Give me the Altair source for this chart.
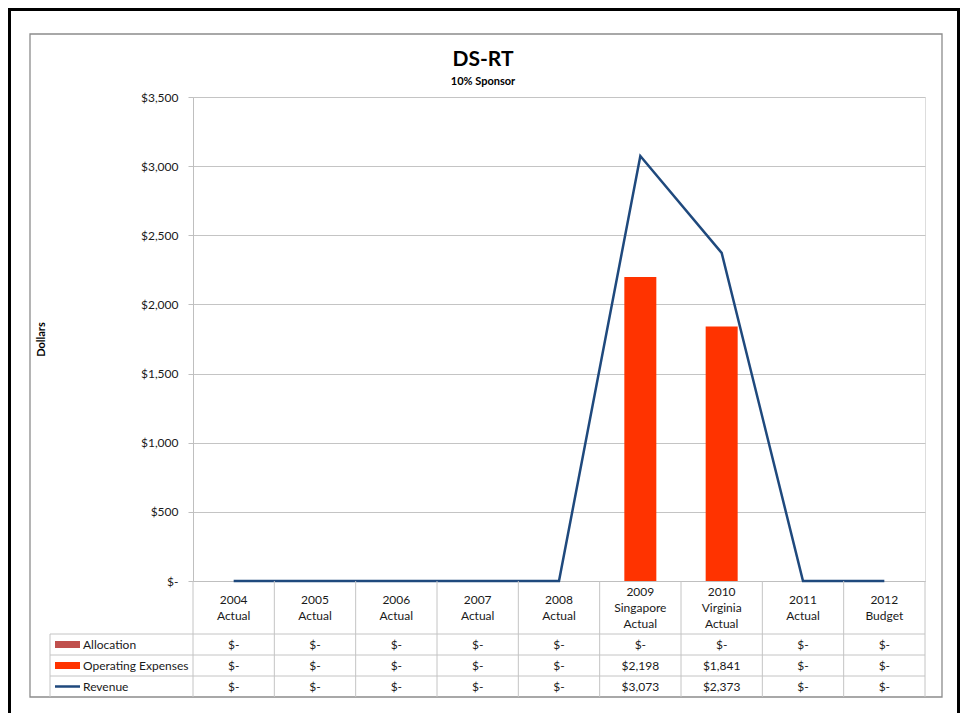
import altair as alt
import pandas as pd

# ---- data ----
categories = ["2004\nActual", "2005\nActual", "2006\nActual", "2007\nActual", "2008\nActual",
              "2009\nSingapore\nActual", "2010\nVirginia\nActual", "2011\nActual", "2012\nBudget"]
allocation = [0, 0, 0, 0, 0, 0, 0, 0, 0]
operating_expenses = [0, 0, 0, 0, 0, 2198, 1841, 0, 0]
revenue = [0, 0, 0, 0, 0, 3073, 2373, 0, 0]
series_names = ["Allocation", "Operating Expenses", "Revenue"]
series_colors = ["#C0504D", "#FF3300", "#1F497D"]
y_ticks = [0, 500, 1000, 1500, 2000, 2500, 3000, 3500]
chart_title = "DS-RT"
chart_subtitle = "10% Sponsor"
y_title = "Dollars"

rows = []
for name, vals in zip(series_names, [allocation, operating_expenses, revenue]):
    for c, v in zip(categories, vals):
        rows.append({"category": c, "series": name, "value": v})
df = pd.DataFrame(rows)
cat_df = pd.DataFrame({"category": categories})
one = pd.DataFrame({"k": [0]})

W, H = 732, 484
FONT = "Lato"
GRID = "#C4C4C4"
TXT = "#1A1A1A"

x_axis = alt.Axis(labels=False, ticks=False, title=None, grid=False,
                  domainColor="#BFBFBF", domainWidth=1)
x_scale = alt.Scale(domain=categories, paddingInner=0, paddingOuter=0)


def xenc(band=None):
    if band is None:
        return alt.X("category:N", sort=categories, scale=x_scale, axis=x_axis)
    return alt.X("category:N", sort=categories, scale=x_scale, axis=x_axis, bandPosition=band)


y_enc = alt.Y(
    "value:Q",
    scale=alt.Scale(domain=[0, 3500], nice=False),
    axis=alt.Axis(
        values=y_ticks,
        labelExpr="datum.value == 0 ? '$-' : '$' + format(datum.value, ',')",
        title=y_title, titleFont=FONT, titleFontSize=11, titleFontWeight="bold",
        titleColor="black", titleX=-152, titleY=242, titleAlign="center",
        titleBaseline="middle", titleAngle=270,
        labelFont=FONT, labelFontSize=12, labelColor=TXT, labelPadding=10,
        tickSize=5, tickColor="#BFBFBF", domainColor="#BFBFBF",
        grid=True, gridColor=GRID, gridWidth=1,
    ),
)

base = alt.Chart(df)
deco = alt.Chart(one)

# outer frame & chart-area border
frame = deco.mark_rect(fillOpacity=0, stroke="black", strokeWidth=3).encode(
    x=alt.value(-183.5), x2=alt.value(765.5), y=alt.value(-87.5), y2=alt.value(700))
inner = deco.mark_rect(fillOpacity=0, stroke="#8C8C8C", strokeWidth=1.3).encode(
    x=alt.value(-163), x2=alt.value(749), y=alt.value(-63), y2=alt.value(600))

# titles
title_t = deco.mark_text(font=FONT, fontSize=21, fontWeight="bold", color="black",
                         align="center", baseline="middle").encode(
    x=alt.value(290), y=alt.value(-37), text=alt.value(chart_title))
sub_t = deco.mark_text(font=FONT, fontSize=11, fontWeight="bold", color="black",
                       align="center", baseline="middle").encode(
    x=alt.value(290), y=alt.value(-15), text=alt.value(chart_subtitle))

# bars & line
bars = base.transform_filter(alt.datum.series == "Operating Expenses").mark_bar(
    size=32, color=series_colors[1]).encode(x=xenc(), y=y_enc)
alloc_bars = base.transform_filter(alt.datum.series == "Allocation").mark_bar(
    size=32, color=series_colors[0]).encode(x=xenc(), y=alt.Y("value:Q"))
line = base.transform_filter(alt.datum.series == "Revenue").mark_line(
    color=series_colors[2], strokeWidth=2.5).encode(x=xenc(0.5), y=alt.Y("value:Q"))

# data table grid
vlines = alt.Chart(cat_df).mark_rule(color=GRID, strokeWidth=1).encode(
    x=xenc(0), y=alt.value(H), y2=alt.value(600))
vline_right = deco.mark_rule(color=GRID, strokeWidth=1).encode(
    x=alt.value(W), y=alt.value(H), y2=alt.value(600))
vline_left = deco.mark_rule(color=GRID, strokeWidth=1).encode(
    x=alt.value(-143), y=alt.value(537), y2=alt.value(600))
hlines = [deco.mark_rule(color=GRID, strokeWidth=1).encode(
    x=alt.value(-143), x2=alt.value(W), y=alt.value(yy)) for yy in (537, 558, 579)]

# header labels (vertically centred in the header cell)
headers = []
for nlines, ytop in ((2, 503), (3, 494.5)):
    headers.append(
        alt.Chart(cat_df)
        .transform_calculate(nl="length(split(datum.category, '\\n'))")
        .transform_filter(alt.datum.nl == nlines)
        .mark_text(font=FONT, fontSize=12, color=TXT, lineBreak="\n",
                   lineHeight=16, align="center", baseline="middle")
        .encode(x=xenc(0.5), y=alt.value(ytop), text="category:N")
    )

# table values
row_centers = [547.5, 568.5, 589.5]
cells = []
for name, yc in zip(series_names, row_centers):
    cells.append(
        base.transform_filter(alt.datum.series == name)
        .transform_calculate(lbl="datum.value == 0 ? '$-' : '$' + format(datum.value, ',')")
        .mark_text(font=FONT, fontSize=12, color=TXT, align="center", baseline="middle")
        .encode(x=xenc(0.5), y=alt.value(yc), text="lbl:N")
    )

# legend keys in the table
keys = []
for i, (name, yc) in enumerate(zip(series_names, row_centers)):
    if name == "Revenue":
        keys.append(deco.mark_rule(color=series_colors[i], strokeWidth=2.5).encode(
            x=alt.value(-138), x2=alt.value(-113), y=alt.value(yc)))
    else:
        keys.append(deco.mark_rect(color=series_colors[i]).encode(
            x=alt.value(-138), x2=alt.value(-113), y=alt.value(yc - 3.5), y2=alt.value(yc + 3.5)))
    keys.append(deco.mark_text(font=FONT, fontSize=12, color=TXT, align="left",
                               baseline="middle").encode(
        x=alt.value(-110), y=alt.value(yc), text=alt.value(name)))

chart = alt.layer(
    frame, inner, title_t, sub_t, bars, alloc_bars, line,
    vlines, vline_right, vline_left, *hlines, *headers, *cells, *keys
).properties(
    width=W, height=H,
    autosize=alt.AutoSizeParams(type="none"),
    padding={"left": 185, "top": 89, "right": 35, "bottom": 132},
    background="white",
).configure_view(stroke=None).configure(font=FONT)

chart.save("out.html", embed_options={"renderer": "svg", "actions": False})
